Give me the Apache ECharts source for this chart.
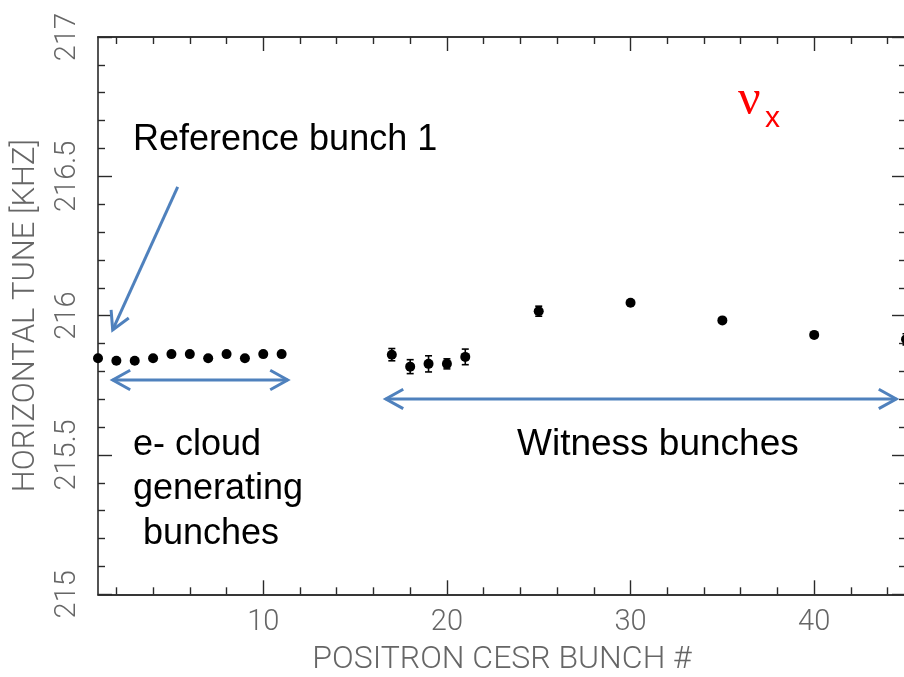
<!DOCTYPE html>
<html>
<head>
<meta charset="utf-8">
<script src="https://cdn.jsdelivr.net/npm/echarts@6/dist/echarts.min.js"></script>
<style>
  html, body { margin: 0; padding: 0; background: #fff; }
  #chart { width: 904px; height: 677px; }
</style>
</head>
<body>
<div id="chart"></div>
<script>
// Horizontal tune of each positron bunch in CESR
const bunchNumbers = [1, 2, 3, 4, 5, 6, 7, 8, 9, 10, 11, 17, 18, 19, 20, 21, 25, 30, 35, 40, 45];
const tuneKHz = [215.847, 215.838, 215.838, 215.847, 215.862, 215.862, 215.847, 215.862, 215.847, 215.862, 215.862,
                 215.860, 215.817, 215.827, 215.827, 215.852, 216.016, 216.046, 215.983, 215.931, 215.915];
const tuneErrKHz = [0, 0, 0, 0, 0, 0, 0, 0, 0, 0, 0,
                    0.022, 0.025, 0.029, 0.018, 0.028, 0.018, 0.008, 0.008, 0.008, 0.02];

const xMajorTicks = [10, 20, 30, 40];
const xMinorTicks = [2, 4, 6, 8, 12, 14, 16, 18, 22, 24, 26, 28, 32, 34, 36, 38, 42, 44];

const xTitle = 'POSITRON CESR BUNCH #';
const yTitle = 'HORIZONTAL TUNE [KHZ]';

// annotation arrows in data units: [x1, y1, x2, y2, double-headed]
const arrowNotes = [
  [5.34, 216.462, 1.80, 215.949, 0],
  [1.80, 215.769, 11.33, 215.769, 1],
  [16.67, 215.701, 44.47, 215.701, 1]
];

const points = bunchNumbers.map((b, i) => [b, tuneKHz[i]]);
const errBars = bunchNumbers
  .map((b, i) => [b, tuneKHz[i] - tuneErrKHz[i], tuneKHz[i] + tuneErrKHz[i]])
  .filter((d, i) => tuneErrKHz[i] > 0);

const tickFont = { fontFamily: 'Roboto', fontWeight: 300, color: '#666', fontSize: 29 };
const axisLine = { show: true, onZero: false, lineStyle: { color: '#2a2a2a', width: 1.6 } };
const tickStyle = { color: '#2a2a2a', width: 1.4 };
const X_MIN = 1, X_MAX = 45;

function xAxisDef(position, ticks, len, withLabels) {
  return {
    type: 'value', position, min: X_MIN, max: X_MAX,
    axisLine: axisLine,
    splitLine: { show: false },
    axisTick: { show: true, inside: true, length: len, customValues: ticks, lineStyle: tickStyle },
    axisLabel: withLabels
      ? Object.assign({ show: true, margin: 14, customValues: ticks }, tickFont)
      : { show: false }
  };
}

function yAxisDef(position, withLabels) {
  return {
    type: 'value', position, min: 215, max: 217, interval: 0.5,
    axisLine: axisLine,
    splitLine: { show: false },
    axisTick: { show: true, inside: true, length: 14, lineStyle: tickStyle },
    minorTick: { show: true, splitNumber: 5, length: 7, lineStyle: tickStyle },
    minorSplitLine: { show: false },
    axisLabel: withLabels
      ? Object.assign({ show: true, rotate: 90, margin: 16, hideOverlap: false }, tickFont)
      : { show: false }
  };
}

const xAxes = [
  xAxisDef('bottom', xMajorTicks, 14, true),
  xAxisDef('bottom', xMinorTicks, 7, false),
  xAxisDef('top', xMajorTicks, 14, false),
  xAxisDef('top', xMinorTicks, 7, false)
];
Object.assign(xAxes[0], {
  name: xTitle, nameLocation: 'middle', nameGap: 50,
  nameTextStyle: { fontFamily: 'Roboto', fontWeight: 300, color: '#666', fontSize: 32 }
});

const yAxes = [yAxisDef('left', true), yAxisDef('right', false)];
Object.assign(yAxes[0], {
  name: yTitle, nameLocation: 'middle', nameGap: 56,
  nameTextStyle: { fontFamily: 'Roboto', fontWeight: 300, color: '#666', fontSize: 31 }
});

const ARROW_BLUE = '#4F81BD';

function drawArrow(params, api) {
  const p1 = api.coord([api.value(0), api.value(1)]);
  const p2 = api.coord([api.value(2), api.value(3)]);
  const both = api.value(4) === 1;
  const L = 20, half = Math.PI / 6.2;
  const head = (tip, from) => {
    const a = Math.atan2(from[1] - tip[1], from[0] - tip[0]);
    return {
      type: 'polyline',
      shape: { points: [
        [tip[0] + L * Math.cos(a + half), tip[1] + L * Math.sin(a + half)],
        tip,
        [tip[0] + L * Math.cos(a - half), tip[1] + L * Math.sin(a - half)]
      ] },
      style: { stroke: ARROW_BLUE, lineWidth: 3, fill: null, lineJoin: 'miter' }
    };
  };
  const children = [
    { type: 'line', shape: { x1: p1[0], y1: p1[1], x2: p2[0], y2: p2[1] },
      style: { stroke: ARROW_BLUE, lineWidth: 3 } },
    head(p2, p1)
  ];
  if (both) children.push(head(p1, p2));
  return { type: 'group', children };
}

function drawErrorBar(params, api) {
  const x = api.value(0);
  const lo = api.coord([x, api.value(1)]);
  const hi = api.coord([x, api.value(2)]);
  const w = 3.5;
  const st = { stroke: '#000', lineWidth: 1.6 };
  return {
    type: 'group',
    children: [
      { type: 'line', shape: { x1: lo[0], y1: lo[1], x2: hi[0], y2: hi[1] }, style: st },
      { type: 'line', shape: { x1: lo[0] - w, y1: lo[1], x2: lo[0] + w, y2: lo[1] }, style: st },
      { type: 'line', shape: { x1: hi[0] - w, y1: hi[1], x2: hi[0] + w, y2: hi[1] }, style: st }
    ]
  };
}

const noteFont = { fontFamily: 'Liberation Sans, Arial', fontSize: 36, fill: '#000' };
const note = (text, x, y, size) => ({
  type: 'text', silent: true,
  style: Object.assign({}, noteFont, { text, x, y, verticalAlign: 'middle' }, size ? { fontSize: size } : {})
});

const chart = echarts.init(document.getElementById('chart'), null, { renderer: 'canvas' });
chart.setOption({
  animation: false,
  backgroundColor: '#fff',
  grid: { left: 98, top: 37, right: -2, bottom: 82.7, containLabel: false, outerBoundsMode: 'none' },
  xAxis: xAxes,
  yAxis: yAxes,
  series: [
    {
      type: 'custom', name: 'arrows', xAxisIndex: 0, yAxisIndex: 0,
      renderItem: drawArrow, data: arrowNotes, silent: true, clip: false
    },
    {
      type: 'custom', name: 'errors', xAxisIndex: 0, yAxisIndex: 0,
      renderItem: drawErrorBar, data: errBars, silent: true
    },
    {
      type: 'scatter', name: 'tune', xAxisIndex: 0, yAxisIndex: 0,
      data: points, symbol: 'circle', symbolSize: 10,
      itemStyle: { color: '#000', opacity: 1 }, clip: false
    }
  ],
  graphic: [
    note('Reference bunch 1', 133, 140),
    note('Witness bunches', 517, 445, 37),
    note('e- cloud', 133, 445),
    note('generating', 133, 489.5),
    note(' bunches', 133, 534),
    { type: 'text', silent: true,
      style: { text: 'ν', x: 738, y: 101, verticalAlign: 'middle', fontFamily: 'Liberation Serif', fontSize: 50, fill: '#ff0000' } },
    { type: 'text', silent: true,
      style: { text: 'x', x: 765, y: 119, verticalAlign: 'middle', fontFamily: 'Liberation Sans, Arial', fontSize: 30, fill: '#ff0000' } }
  ]
});
</script>
</body>
</html>
